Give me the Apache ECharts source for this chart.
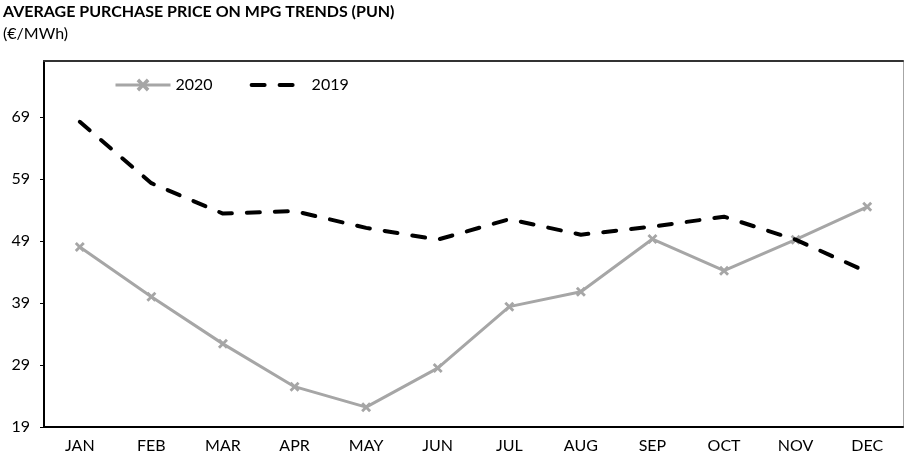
<!DOCTYPE html>
<html lang="en">
<head>
  <meta charset="utf-8">
  <title>Average purchase price on MPG trends (PUN)</title>
  <style>
    html, body { margin: 0; padding: 0; background: #fff; }
    #container { width: 905px; height: 459px; }
  </style>
</head>
<body>
  <div id="container"></div>
  <script type="text/javascript" src="https://cdn.jsdelivr.net/npm/echarts@6.0.0/dist/echarts.min.js"></script>
  <script type="text/javascript">
    // data (€/MWh)
    var months = ['JAN', 'FEB', 'MAR', 'APR', 'MAY', 'JUN', 'JUL', 'AUG', 'SEP', 'OCT', 'NOV', 'DEC'];
    var pun2020 = [48.0, 40.0, 32.4, 25.5, 22.2, 28.5, 38.4, 40.8, 49.3, 44.2, 49.2, 54.5];
    var pun2019 = [68.2, 58.3, 53.4, 53.8, 51.1, 49.2, 52.5, 50.0, 51.3, 52.9, 49.2, 44.0];

    var FONT = 'Lato, "Open Sans", sans-serif';
    var crossMark = 'path://M2,0 L5,3 L8,0 L10,2 L7,5 L10,8 L8,10 L5,7 L2,10 L0,8 L3,5 L0,2 Z';

    var myChart = echarts.init(document.getElementById('container'));

    var option = {
      animation: false,
      textStyle: { fontFamily: FONT, color: '#000' },
      title: {
        text: 'AVERAGE PURCHASE PRICE ON MPG TRENDS (PUN)',
        subtext: '(€/MWh)',
        left: 3,
        top: 4,
        padding: 0,
        itemGap: 6,
        textStyle: { fontFamily: FONT, fontSize: 16, fontWeight: 'bold', color: '#000' },
        subtextStyle: { fontFamily: FONT, fontSize: 16, color: '#000' }
      },
      legend: {
        left: 109,
        top: 72,
        itemWidth: 55,
        itemHeight: 16,
        itemGap: 37,
        textStyle: { fontFamily: FONT, fontSize: 16, color: '#000' },
        data: [
          { name: '2020', lineStyle: { width: 3 } },
          { name: '2019', itemStyle: { opacity: 0 }, lineStyle: { width: 4, type: [13, 15], cap: 'round' } }
        ]
      },
      grid: { left: 44, right: 2, top: 61, bottom: 32, containLabel: false },
      xAxis: [{
        type: 'category',
        data: months,
        boundaryGap: true,
        axisLine: { lineStyle: { color: '#000', width: 2 } },
        axisTick: { show: false },
        axisLabel: { fontFamily: FONT, fontSize: 16, color: '#000', margin: 11 },
        splitLine: { show: false }
      }, {
        type: 'category',
        data: months,
        position: 'top',
        axisLine: { lineStyle: { color: '#333', width: 2 } },
        axisTick: { show: false },
        axisLabel: { show: false },
        splitLine: { show: false }
      }],
      yAxis: [{
        type: 'value',
        min: 19,
        max: 78,
        interval: 10,
        axisLine: { show: true, lineStyle: { color: '#000', width: 2 } },
        axisTick: { show: true, length: 4, lineStyle: { color: '#000' } },
        axisLabel: { fontFamily: FONT, fontSize: 16, color: '#000', margin: 14, showMaxLabel: false },
        splitLine: { show: false }
      }, {
        type: 'value',
        min: 19,
        max: 78,
        position: 'right',
        axisLine: { show: true, lineStyle: { color: '#a6a6a6', width: 1 } },
        axisTick: { show: false },
        axisLabel: { show: false },
        splitLine: { show: false }
      }],
      series: [{
        name: '2020',
        type: 'line',
        data: pun2020,
        symbol: crossMark,
        symbolSize: 10,
        showAllSymbol: true,
        color: '#a6a6a6',
        lineStyle: { color: '#a6a6a6', width: 3 },
        itemStyle: { color: '#a6a6a6' },
        z: 3
      }, {
        name: '2019',
        type: 'line',
        data: pun2019,
        symbol: 'circle',
        showSymbol: false,
        color: '#000',
        lineStyle: { color: '#000', width: 4, type: [13, 15], cap: 'round' },
        z: 4
      }]
    };

    myChart.setOption(option);
  </script>
</body>
</html>
